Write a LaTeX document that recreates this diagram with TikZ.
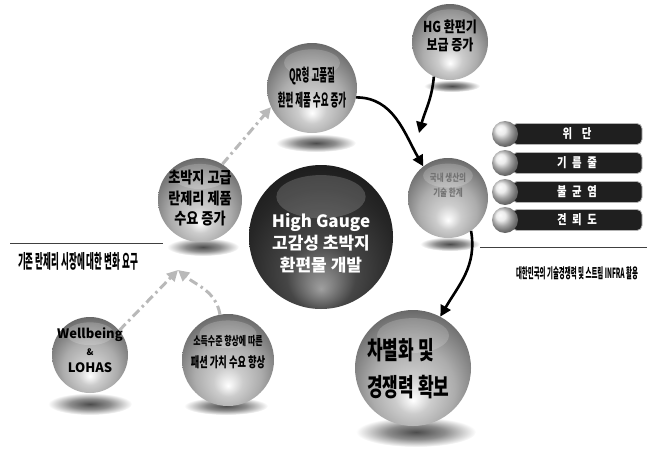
\documentclass[tikz,border=0pt]{standalone}
\usepackage{fontspec}
\usepackage{graphicx}
\setmainfont{Noto Sans CJK KR}
\usetikzlibrary{arrows.meta,calc}
\pgfdeclareradialshading{glassL}{\pgfpoint{0bp}{-14bp}}{color(0bp)=(white); color(8bp)=(gray!40); color(18bp)=(gray!65); color(30bp)=(gray!85!black); color(38bp)=(black!85); color(50bp)=(black)}
\pgfdeclareradialshading{glassD}{\pgfpoint{0bp}{-18bp}}{color(0bp)=(gray!75); color(12bp)=(gray!55!black); color(26bp)=(black!85); color(50bp)=(black)}
\pgfdeclareradialshading{shadowS}{\pgfpointorigin}{color(0bp)=(black!70); color(12bp)=(black!45); color(25bp)=(white); color(50bp)=(white)}
\newcommand{\sq}[2]{\scalebox{#1}[1]{\begin{tabular}{@{}c@{}}#2\end{tabular}}}
\newcommand{\sqL}[2]{\scalebox{#1}[1]{\begin{tabular}{@{}l@{}}#2\end{tabular}}}
\begin{document}
\begin{tikzpicture}[x=1pt,y=-1pt,
  sph/.style={circle, inner sep=0pt, shading=glassL},
  dsph/.style={circle, inner sep=0pt, shading=glassD},
  shd/.style={shading=shadowS},
  solidarr/.style={draw=black, line width=2.6pt, -{Triangle[length=11pt,width=11pt]}},
  dasharr/.style={draw=gray!55, line width=3pt, dash pattern=on 9pt off 4pt on 2.5pt off 4pt, -{Triangle[length=11pt,width=11pt]}},
  txt/.style={inner sep=0pt, text=black},
  barbox/.style={rectangle, rounded corners=5pt, fill=black!88, draw=gray!60, line width=0.8pt, minimum width=130pt, minimum height=21pt, inner sep=0pt, text=white, font=\fontsize{13}{15}\selectfont\bfseries},
  sball/.style={circle, inner sep=0pt, minimum size=26pt, ball color=gray!20},
  rule/.style={draw=black!75, line width=1pt},
]
\useasboundingbox (0,0) rectangle (647,455);

% shadows
\path[shd] (316,143) ellipse [x radius=40, y radius=9];
\path[shd] (452,86) ellipse [x radius=28, y radius=6];
\path[shd] (203,247) ellipse [x radius=36, y radius=9];
\path[shd] (450,244) ellipse [x radius=30, y radius=7];
\path[shd] (90,404) ellipse [x radius=42, y radius=11];
\path[shd] (226,406) ellipse [x radius=42, y radius=9];
\path[shd] (416,432) ellipse [x radius=60, y radius=15];

% spheres
\node[sph, minimum size=90pt] (qr) at (312,88) {};
\node[sph, minimum size=76pt] (hg) at (450,42) {};
\node[sph, minimum size=84pt] (lft) at (200,200) {};
\node[sph, minimum size=80pt] (rmid) at (448,198) {};
\node[dsph, minimum size=144pt] (ctr) at (321,237) {};
\node[sph, minimum size=76pt] (well) at (90,355) {};
\node[sph, minimum size=92pt] (bmid) at (228,360) {};
\node[sph, minimum size=116pt] (brt) at (413,368) {};

\foreach \n/\r in {qr/45,hg/38,lft/42,rmid/40,ctr/72,well/38,bmid/46,brt/58}
  \fill[white,opacity=0.18] ($(\n.center)+(0,-0.56*\r)$) ellipse [x radius=0.62*\r, y radius=0.3*\r];

% texts
\node[txt, font=\fontsize{17}{25}\selectfont\bfseries] (qrT) at (312,89) {\sq{0.5}{QR형 고품질\\환편 제품 수요 증가}};
\node[txt, font=\fontsize{15}{18}\selectfont\bfseries] (hgT) at (450,38) {\sq{0.8}{HG 환편기\\보급 증가}};
\node[txt, font=\fontsize{16}{20.5}\selectfont\bfseries] (lftT) at (200,200) {\sq{0.82}{초박지 고급\\란제리 제품\\수요 증가}};
\node[txt, text=black!55, font=\fontsize{10}{15}\selectfont\bfseries] (rmidT) at (448,186) {\sq{0.75}{국내 생산의\\기술 한계}};
\node[txt, text=white, font=\fontsize{17}{22}\selectfont\bfseries] (ctrT) at (321,245) {\sq{1}{High Gauge\\고감성 초박지\\환편물 개발}};
\node[txt, font=\fontsize{13}{17}\selectfont\bfseries] (wellT) at (90,352) {\sq{1}{Wellbeing\\{\small\&}\\LOHAS}};
\node[txt, font=\fontsize{14}{22}\selectfont\bfseries] (bmidT) at (228,352) {\sq{0.66}{{\fontsize{12}{22}\selectfont 소득수준 향상에 따른}\\패션 가치 수요 향상}};
\node[txt, anchor=west, font=\fontsize{25}{37}\selectfont\bfseries] (brtT) at (367,371) {\sqL{0.68}{차별화 및\\경쟁력 확보}};

% left label
\draw[rule] (10,243) -- (163,243);
\node[txt, font=\fontsize{19}{22}\selectfont\bfseries] (lblL) at (78,261) {\scalebox{0.45}[1]{기존 란제리 시장에 대한 변화 요구}};

% right list
\node[barbox] (b1) at (577,134) {\scalebox{0.8}[1]{위\hspace{12pt}단}};
\node[barbox] (b2) at (577,163) {\scalebox{0.8}[1]{기\hspace{7pt}름\hspace{7pt}줄}};
\node[barbox] (b3) at (577,192) {\scalebox{0.8}[1]{불\hspace{7pt}균\hspace{7pt}염}};
\node[barbox] (b4) at (577,220) {\scalebox{0.8}[1]{견\hspace{7pt}뢰\hspace{7pt}도}};
\node[sball] (s1) at (505,134) {};
\node[sball] (s2) at (505,163) {};
\node[sball] (s3) at (505,192) {};
\node[sball] (s4) at (505,220) {};
\draw[rule] (480,247) -- (647,247);
\node[txt, font=\fontsize{14}{16}\selectfont\bfseries] (lblR) at (577,273) {\scalebox{0.46}[1]{대한민국의 기술경쟁력 및 스트림 INFRA 활용}};

% connectors
\coordinate (hgend) at (419,133);
\coordinate (req) at (178,270);
\draw[dasharr] (lft.58) -- (qr.205);
\draw[solidarr] (qr.-12) to[out=0, in=120] (rmid.128);
\draw[solidarr] (hg.245) to[out=-95, in=75] (hgend);
\draw[solidarr] (rmid.-55) to[out=-80, in=60] (brt.62);
\draw[dasharr] (well.40) -- (req);
\draw[dasharr] (bmid.100) to[out=100, in=-40] (req);
\end{tikzpicture}
\end{document}
